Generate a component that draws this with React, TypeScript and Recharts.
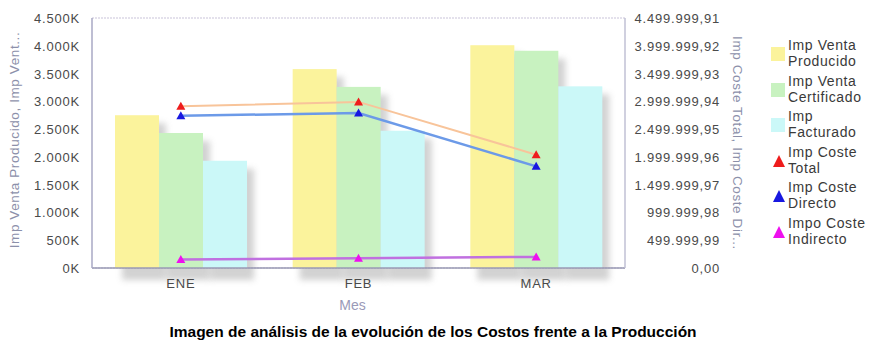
import React from 'react';
import { ComposedChart, Bar, Line, XAxis, YAxis, CartesianGrid } from 'recharts';

const months = ['ENE', 'FEB', 'MAR'];
const ventaProducido = [2750000, 3580000, 4010000];
const ventaCertificado = [2430000, 3260000, 3910000];
const facturado = [1930000, 2470000, 3270000];
const costeTotal = [2910000, 2990000, 2040000];
const costeDirecto = [2740000, 2790000, 1830000];
const costeIndirecto = [155000, 175000, 200000];

const leftTicks = [0, 500000, 1000000, 1500000, 2000000, 2500000, 3000000, 3500000, 4000000, 4500000];
const rightStep = 499999.99;
const rightTicks = [0, 1, 2, 3, 4, 5, 6, 7, 8, 9].map((k) => Math.round(k * rightStep * 100) / 100);

const legendItems = [
  { lines: ['Imp Venta', 'Producido'], color: '#fbf39c', type: 'square' },
  { lines: ['Imp Venta', 'Certificado'], color: '#c8f2c0', type: 'square' },
  { lines: ['Imp', 'Facturado'], color: '#cbf8f8', type: 'square' },
  { lines: ['Imp Coste', 'Total'], color: '#ee1c1c', type: 'triangle' },
  { lines: ['Imp Coste', 'Directo'], color: '#1818e0', type: 'triangle' },
  { lines: ['Impo Coste', 'Indirecto'], color: '#ee10ee', type: 'triangle' },
];

const data = months.map((m, i) => ({
  month: m,
  producido: ventaProducido[i],
  certificado: ventaCertificado[i],
  facturado: facturado[i],
  total: costeTotal[i],
  directo: costeDirecto[i],
  indirecto: costeIndirecto[i],
}));

const groupThousands = (s: string) => s.replace(/\B(?=(\d{3})+(?!\d))/g, '.');
const fmtLeft = (v: number) => groupThousands(String(Math.round(v / 1000))) + 'K';
const fmtRight = (v: number) => {
  const fixed = v.toFixed(2);
  const [int, dec] = fixed.split('.');
  return groupThousands(int) + ',' + dec;
};

const FONT = 'Arial, "Liberation Sans", sans-serif';
const tickStyle = { fontFamily: FONT, fontSize: 13, fill: '#4a4a4a', letterSpacing: 0.8 };

const LeftTick = (props: any) => {
  const { x, y, payload } = props;
  return (
    <text x={x} y={y} dy={5} textAnchor="end" style={tickStyle}>
      {fmtLeft(payload.value)}
    </text>
  );
};

const RightTick = (props: any) => {
  const { y, payload } = props;
  return (
    <text x={720} y={y} dy={5} textAnchor="end" style={tickStyle}>
      {fmtRight(payload.value)}
    </text>
  );
};

const XTick = (props: any) => {
  const { x, y, payload } = props;
  return (
    <text x={x} y={y} dy={12} textAnchor="middle" style={tickStyle}>
      {payload.value}
    </text>
  );
};

const ShadowBar = (props: any) => {
  const { x, y, width, height, fill } = props;
  if (height == null || height <= 0) return null;
  return (
    <g>
      <rect x={x + 7} y={y + 8} width={width} height={height + 4} fill="#8a8a8a" opacity={0.38} filter="url(#barShadow)" />
      <rect x={x} y={y} width={width} height={height} fill={fill} />
    </g>
  );
};

const makeTriangle = (color: string) => (props: any) => {
  const { cx, cy } = props;
  if (cx == null || cy == null) return null;
  return <path d={`M${cx},${cy - 4.5} L${cx + 4.5},${cy + 3.5} L${cx - 4.5},${cy + 3.5} Z`} fill={color} />;
};

const TriRed = makeTriangle('#ee1c1c');
const TriBlue = makeTriangle('#1818e0');
const TriMagenta = makeTriangle('#ee10ee');

export default function App() {
  return (
    <div style={{ position: 'absolute', left: 0, top: 0, width: 870, height: 357, background: '#fff', fontFamily: FONT }}>
      <ComposedChart
        width={870}
        height={357}
        data={data}
        margin={{ top: 18, right: 135, bottom: 49, left: 0 }}
        barGap={0}
      >
        <defs>
          <filter id="barShadow" x="-50%" y="-50%" width="200%" height="200%">
            <feGaussianBlur stdDeviation="3" />
          </filter>
        </defs>
        <CartesianGrid vertical={false} stroke="#c9c3d9" strokeDasharray="2 1" />
        <XAxis
          dataKey="month"
          height={40}
          tick={<XTick />}
          tickLine={false}
          axisLine={{ stroke: '#9a9ab4', strokeWidth: 1.5 }}
          label={{ value: 'Mes', position: 'insideBottom', offset: -2, dx: -6, style: { fontFamily: FONT, fontSize: 14, fill: '#9a9ab8' } }}
        />
        <YAxis
          yAxisId="left"
          width={92}
          domain={[0, 4500000]}
          ticks={leftTicks}
          interval={0}
          tick={<LeftTick />}
          tickLine={false}
          tickMargin={6}
          axisLine={{ stroke: '#a8a8c4', strokeWidth: 1.5 }}
          label={{
            content: () => (
              <text
                x={19}
                y={140}
                transform="rotate(-90 19 140)"
                textAnchor="middle"
                style={{ fontFamily: FONT, fontSize: 13.5, fill: '#8c90aa', letterSpacing: 0.6 }}
              >
                Imp Venta Producido, Imp Vent...
              </text>
            ),
          }}
        />
        <YAxis
          yAxisId="right"
          orientation="right"
          width={110}
          domain={[0, 4499999.91]}
          ticks={rightTicks}
          interval={0}
          tick={<RightTick />}
          tickLine={false}
          axisLine={{ stroke: '#c0c0d4', strokeWidth: 1.5 }}
          label={{
            content: () => (
              <text
                x={733}
                y={143}
                transform="rotate(90 733 143)"
                textAnchor="middle"
                style={{ fontFamily: FONT, fontSize: 13.5, fill: '#8c90aa', letterSpacing: 0.6 }}
              >
                Imp Coste Total, Imp Coste Dir...
              </text>
            ),
          }}
        />
        <Bar yAxisId="left" dataKey="producido" fill="#fbf39c" barSize={44} shape={<ShadowBar />} isAnimationActive={false} />
        <Bar yAxisId="left" dataKey="certificado" fill="#c8f2c0" barSize={44} shape={<ShadowBar />} isAnimationActive={false} />
        <Bar yAxisId="left" dataKey="facturado" fill="#cbf8f8" barSize={44} shape={<ShadowBar />} isAnimationActive={false} />
        <Line yAxisId="right" dataKey="total" stroke="#f8c49a" strokeWidth={2} dot={<TriRed />} activeDot={false} isAnimationActive={false} />
        <Line yAxisId="right" dataKey="directo" stroke="#6c9ae8" strokeWidth={2.5} dot={<TriBlue />} activeDot={false} isAnimationActive={false} />
        <Line yAxisId="right" dataKey="indirecto" stroke="#c070e0" strokeWidth={2.5} dot={<TriMagenta />} activeDot={false} isAnimationActive={false} />
      </ComposedChart>

      <div style={{ position: 'absolute', left: 771, top: 37, width: 99 }}>
        {legendItems.map((it, i) => (
          <div key={i} style={{ position: 'absolute', top: i * 35.5, left: 0, height: 34 }}>
            {it.type === 'square' ? (
              <div style={{ position: 'absolute', left: 0, top: 10, width: 14, height: 14, background: it.color }} />
            ) : (
              <svg style={{ position: 'absolute', left: 0, top: 9 }} width={16} height={16}>
                <path d="M8,2 L14,14 L2,14 Z" fill={it.color} />
              </svg>
            )}
            <div
              style={{
                position: 'absolute',
                left: 17,
                top: 0,
                fontFamily: FONT,
                fontSize: 14,
                lineHeight: '16px',
                color: '#3a3a3a',
                letterSpacing: 0.6,
                whiteSpace: 'nowrap',
              }}
            >
              {it.lines[0]}
              <br />
              {it.lines[1]}
            </div>
          </div>
        ))}
      </div>

      <div
        style={{
          position: 'absolute',
          left: 0,
          top: 323,
          width: 866,
          textAlign: 'center',
          fontFamily: FONT,
          fontSize: 15.5,
          fontWeight: 'bold',
          color: '#000',
        }}
      >
        Imagen de análisis de la evolución de los Costos frente a la Producción
      </div>
    </div>
  );
}
